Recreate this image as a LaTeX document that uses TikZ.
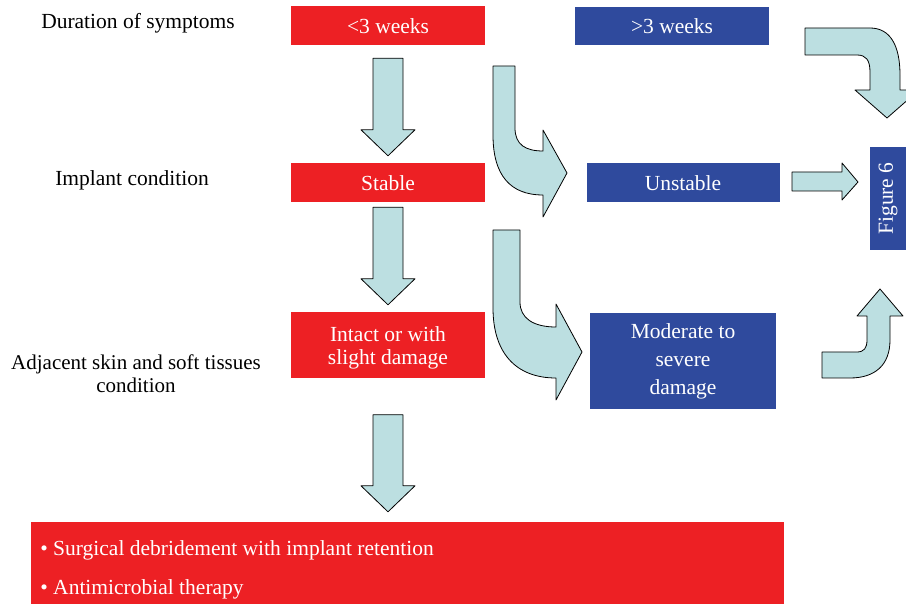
\documentclass[tikz,border=0pt]{standalone}
\usepackage{fontspec}
\setmainfont{Liberation Serif}
\usetikzlibrary{calc}
\definecolor{boxred}{RGB}{237,32,36}
\definecolor{boxblue}{RGB}{47,74,157}
\definecolor{arrowfill}{RGB}{188,223,225}
% straight block arrow downwards: source, target, gap at top, gap at tip
\newcommand{\downblock}[4]{%
  \draw[blockarrow] ($(#1.south)+(-15,#3)$) -- ($(#1.south)+(15,#3)$)
    -- ($(#1.south |- #2.north)+(15,-#4-26)$) -- ($(#1.south |- #2.north)+(27,-#4-26)$)
    -- ($(#1.south |- #2.north)+(0,-#4)$)
    -- ($(#1.south |- #2.north)+(-27,-#4-26)$) -- ($(#1.south |- #2.north)+(-15,-#4-26)$) -- cycle;}
\begin{document}
\begin{tikzpicture}[x=1pt, y=-1pt, font=\fontsize{21.5}{25}\selectfont, line join=round,
    redbox/.style={fill=boxred, text=white, minimum width=194pt, inner sep=2pt},
    bluebox/.style={fill=boxblue, text=white, inner sep=2pt},
    lbl/.style={text=black, align=center},
    blockarrow/.style={draw=black, fill=arrowfill, line width=0.8pt}]
    \useasboundingbox (0,0) rectangle (906,604);
    \clip (0,0) rectangle (906,604);
    % left labels
    \node[lbl] (dur) at (138,23) {Duration of symptoms};
    \node[lbl] (imp) at (132,180) {Implant condition};
    \node[lbl, font=\fontsize{21}{23}\selectfont] (adj) at (136,374) {Adjacent skin and soft tissues\\condition};
    % boxes
    \node[redbox, minimum height=39pt] (short) at (388,26) {\raisebox{-1.5pt}{<3 weeks}};
    \node[bluebox, minimum width=194pt, minimum height=38pt] (long) at (672,26) {\raisebox{-1.5pt}{>3 weeks}};
    \node[redbox, minimum height=39pt] (stable) at (388,183) {\raisebox{-1.5pt}{Stable}};
    \node[bluebox, minimum width=193pt, minimum height=39pt] (unstable) at (683,183) {\raisebox{-1.5pt}{Unstable}};
    \node[redbox, minimum height=66pt] (intact) at (388,345) {};
    \node[text=white, align=center, font=\fontsize{21.5}{23.5}\selectfont] (intacttxt) at ([yshift=-3pt]intact.center) {Intact or with\\slight damage};
    \node[bluebox, minimum width=186pt, minimum height=95pt, align=center, font=\fontsize{21.5}{28}\selectfont] (severe) at (683,361) {Moderate to\\severe\\damage};
    \node[bluebox, rotate=90, minimum width=103pt, minimum height=36pt] (fig) at (888,198.5) {Figure 6};
    \node[redbox, minimum width=753pt, minimum height=82pt] (therapy) at (407.5,563) {};
    \node[anchor=west, text=white, align=left, font=\fontsize{21.5}{39}\selectfont] (list) at ([xshift=6pt, yshift=-7pt]therapy.west)
        {\textbullet{} Surgical debridement with implant retention\\\textbullet{} Antimicrobial therapy};
    % straight arrows
    \downblock{short}{stable}{12.5}{7.5}
    \downblock{stable}{intact}{4.5}{7}
    \downblock{intact}{therapy}{36.5}{10}
    \draw[blockarrow] (792,172) -- (842,172) -- (842,163) -- (858,182) -- (842,200) -- (842,191) -- (792,191) -- cycle;
    % bent arrows
    \draw[blockarrow] (493,66) -- (515,66) -- (515,128) .. controls (515,145) and (526,151) .. (543,151)
        -- (543,130) -- (567,173) -- (543,217) -- (543,195) .. controls (510,195) and (493,175) .. (493,135) -- cycle;
    \draw[blockarrow] (493,230) -- (520,230) -- (520,302) .. controls (520,318) and (533,327) .. (556,327)
        -- (556,304) -- (582,352) -- (556,400) -- (556,378) .. controls (515,378) and (493,352) .. (493,308) -- cycle;
    \draw[blockarrow] (805,28) -- (870,28) .. controls (890,28) and (900,45) .. (900,75) -- (900,90)
        -- (919,90) -- (887,118) -- (855,90) -- (870,90) -- (870,72) .. controls (870,60) and (866,55) .. (857,55)
        -- (805,55) -- cycle;
    \draw[blockarrow] (822,352) -- (857,352) .. controls (864,352) and (867,348) .. (867,340) -- (867,316)
        -- (857,316) -- (880,289) -- (903,316) -- (890,316) -- (890,340) .. controls (890,365) and (875,378) .. (850,378)
        -- (822,378) -- cycle;
\end{tikzpicture}
\end{document}
